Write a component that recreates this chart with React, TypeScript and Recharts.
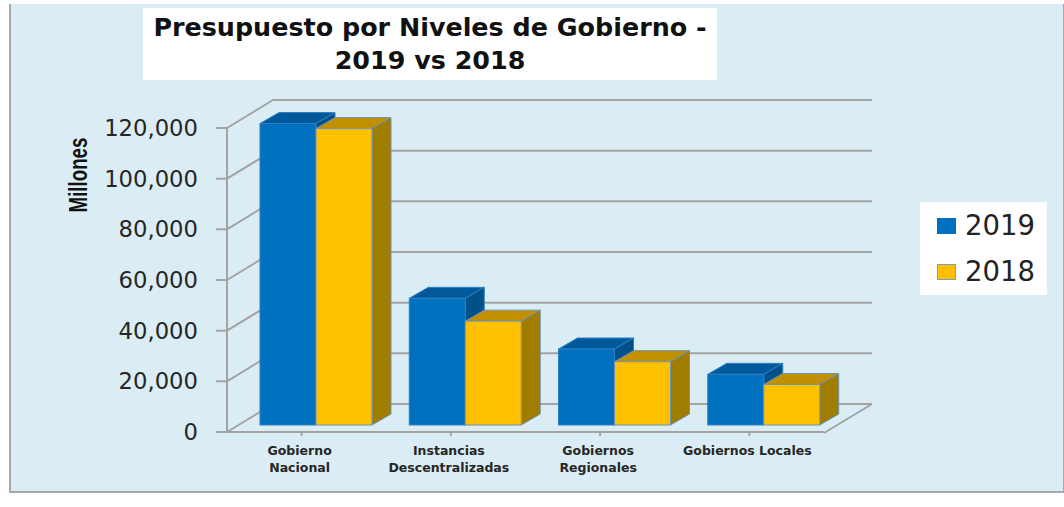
import React from "react";
import { BarChart, Bar, XAxis, YAxis, CartesianGrid, Legend } from "recharts";

const categories = ["Gobierno Nacional", "Instancias Descentralizadas", "Gobiernos Regionales", "Gobiernos Locales"];
const categoryLines = [["Gobierno", "Nacional"], ["Instancias", "Descentralizadas"], ["Gobiernos", "Regionales"], ["Gobiernos Locales"]];
const values2019 = [119000, 50000, 30000, 20000];
const values2018 = [117000, 41000, 25000, 16000];
const yTicks = [0, 20000, 40000, 60000, 80000, 100000, 120000];
const titleLines = ["Presupuesto por Niveles de Gobierno -", "2019 vs 2018"];

const data = categories.map((c, i) => ({ name: c, lines: categoryLines[i], y2019: values2019[i], y2018: values2018[i] }));

const GRID = "#a3a3a3";
const VERDANA = "'DejaVu Sans', Verdana, sans-serif";
const WALL_DX = 46, WALL_DY = -28;
const BAR_DX = 14, BAR_DY = -7, DEPTH_X = 19, DEPTH_Y = -11;

const Bar3D = (colors: { front: string; top: string; side: string; stroke: string }) => (p: any) => {
  const x = p.x + BAR_DX, y = p.y + BAR_DY, w = p.width, h = p.height;
  const pts = (a: number[][]) => a.map((q) => q.join(",")).join(" ");
  return (
    <g>
      <polygon points={pts([[x, y], [x + DEPTH_X, y + DEPTH_Y], [x + w + DEPTH_X, y + DEPTH_Y], [x + w, y]])} fill={colors.top} stroke={colors.stroke} strokeWidth={1} />
      <polygon points={pts([[x + w, y], [x + w + DEPTH_X, y + DEPTH_Y], [x + w + DEPTH_X, y + h + DEPTH_Y], [x + w, y + h]])} fill={colors.side} stroke={colors.stroke} strokeWidth={1} />
      <rect x={x} y={y} width={w} height={h} fill={colors.front} stroke={colors.stroke} strokeWidth={1} />
    </g>
  );
};

const GridLine = (p: any) => {
  const { x1, x2, y1 } = p;
  const isFloor = Math.abs(y1 - 432) < 1;
  return (
    <g key={p.key ?? y1}>
      <polyline points={`${x1},${y1} ${x1 + WALL_DX},${y1 + WALL_DY} ${x2 + WALL_DX + 2},${y1 + WALL_DY}`} fill="none" stroke={GRID} strokeWidth={2} />
      {isFloor && <line x1={x2} y1={y1 + 1} x2={x2 + WALL_DX + 2} y2={y1 + WALL_DY} stroke={GRID} strokeWidth={2} />}
    </g>
  );
};

const CategoryTick = (p: any) => {
  const lines = categoryLines[p.index] ?? [];
  return (
    <text x={p.x - 2} y={p.y} textAnchor="middle" fontFamily={VERDANA} fontWeight={700} fontSize={12.5} fill="#262626">
      {lines.map((l: string, i: number) => (
        <tspan key={l} x={p.x - 2} y={455 + i * 17}>{l}</tspan>
      ))}
    </text>
  );
};

const LegendBox = () => {
  const rows = [
    { label: "2019", fill: "#0070c0", stroke: "#0070c0" },
    { label: "2018", fill: "#ffc000", stroke: "#7f9db9" },
  ];
  return (
    <div style={{ width: 127, height: 93, background: "#fff", position: "relative" }}>
      {rows.map((r, i) => (
        <div key={r.label}>
          <div style={{ position: "absolute", left: 17, top: 16 + i * 46, width: 17, height: 14, background: r.fill, border: `1px solid ${r.stroke}` }} />
          <div style={{ position: "absolute", left: 45, top: 7 + i * 46, fontFamily: VERDANA, fontSize: 27.5, lineHeight: "32px", color: "#222" }}>{r.label}</div>
        </div>
      ))}
    </div>
  );
};

export default function App() {
  return (
    <div style={{ position: "absolute", left: 0, top: 0, width: 1064, height: 507, background: "#fff", overflow: "hidden" }}>
      <div style={{ position: "absolute", left: 9, top: 4, width: 1052, height: 487, background: "#dbedf4", border: "2px solid #a8a8a8", borderTop: "none", borderLeft: "2px solid #a8a8a8" }} />
      <div style={{ position: "absolute", left: 143, top: 8, width: 574, height: 72, background: "#fff", textAlign: "center", fontFamily: VERDANA, fontWeight: 700, fontSize: 25.4, lineHeight: "33px", color: "#111", paddingTop: 3, boxSizing: "border-box", whiteSpace: "nowrap" }}>
        {titleLines.map((t) => <div key={t}>{t}</div>)}
      </div>
      <BarChart
        width={1064}
        height={507}
        data={data}
        barSize={56}
        barGap={0}
        margin={{ top: 128, right: 240, left: 127, bottom: 0 }}
        style={{ position: "absolute", left: 0, top: 0 }}
      >
        <CartesianGrid vertical={false} horizontal={GridLine as any} />
        <XAxis
          dataKey="name"
          height={75}
          interval={0}
          tick={CategoryTick as any}
          tickSize={4}
          axisLine={{ stroke: GRID, strokeWidth: 2 }}
          tickLine={{ stroke: GRID, strokeWidth: 2 }}
        />
        <YAxis
          width={100}
          domain={[0, 120000]}
          ticks={yTicks}
          interval={0}
          tickFormatter={(v: number) => v.toLocaleString("en-US")}
          tick={{ fontFamily: VERDANA, fontSize: 22.7, fill: "#262626" }}
          tickSize={11}
          tickMargin={18}
          axisLine={{ stroke: GRID, strokeWidth: 2 }}
          tickLine={{ stroke: GRID, strokeWidth: 2 }}
          label={{
            content: () => (
              <text transform="translate(87,175) rotate(-90) scale(0.72,1)" textAnchor="middle" fontFamily="'Liberation Sans', sans-serif" fontWeight={700} fontSize={26} fill="#111">
                Millones
              </text>
            ),
          }}
        />
        <Legend content={<LegendBox />} wrapperStyle={{ left: 920, top: 202, width: 127, height: 0 }} />
        <Bar dataKey="y2019" name="2019" isAnimationActive={false} fill="#0070c0"
          shape={Bar3D({ front: "#0070c0", top: "#00599a", side: "#00508a", stroke: "#2f7fbf" }) as any} />
        <Bar dataKey="y2018" name="2018" isAnimationActive={false} fill="#ffc000"
          shape={Bar3D({ front: "#ffc000", top: "#c09000", side: "#a07c00", stroke: "#6f93b5" }) as any} />
      </BarChart>
    </div>
  );
}
